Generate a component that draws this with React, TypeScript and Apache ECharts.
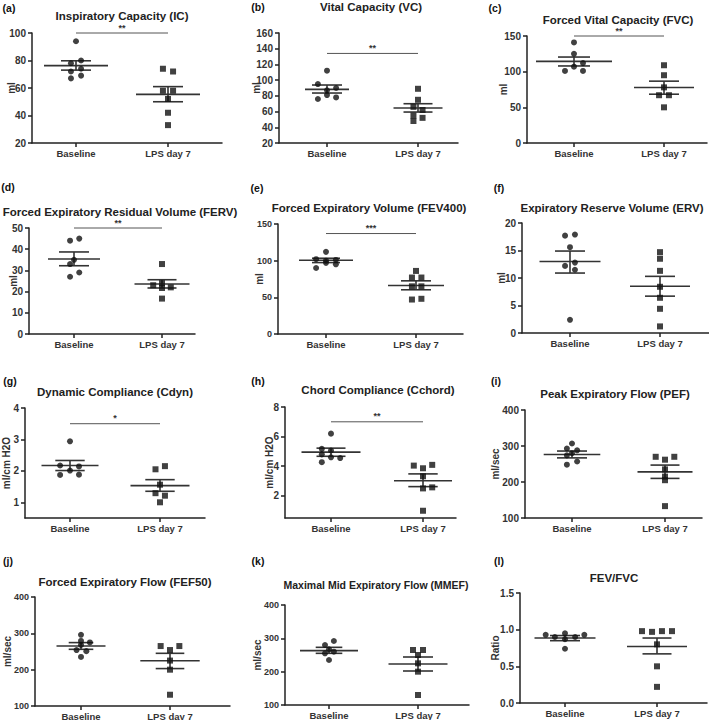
import React, { useEffect, useRef } from "react";
import * as echarts from "echarts";

const FONT = "'Liberation Sans', Arial, Helvetica, sans-serif";
const AX = "#222";
const TXT = "#333";

const groups = ["Baseline", "LPS day 7"];

// (a) Inspiratory Capacity
const icBase = [94, 78, 80, 72, 74, 67, 69];
const icBaseJit = [0, -0.055, 0.055, -0.055, 0.055, -0.055, 0.055];
const icLps = [74, 72, 58, 58, 52, 42, 33];
const icLpsJit = [-0.055, 0.055, -0.055, 0.055, 0, 0, 0];
const icMean = [76.3, 55.4];
const icLo = [73, 50];
const icHi = [79.8, 61];
const icTicks = [20, 40, 60, 80, 100];

// (b) Vital Capacity
const vcBase = [112, 95, 90, 87, 81, 76, 78];
const vcBaseJit = [0, -0.1, 0.1, 0, 0, -0.1, 0.1];
const vcLps = [89, 75, 66, 62, 55, 52, 48];
const vcLpsJit = [0, 0, -0.05, 0.05, -0.05, 0.05, -0.05];
const vcMean = [88.3, 64.5];
const vcLo = [83.6, 59.4];
const vcHi = [93.8, 70];
const vcTicks = [20, 40, 60, 80, 100, 120, 140, 160];

// (c) Forced Vital Capacity
const fvcBase = [141, 125, 112, 107, 101, 101];
const fvcBaseJit = [0, 0, 0.1, 0, -0.1, 0.1];
const fvcLps = [109, 95, 78, 67, 67, 50];
const fvcLpsJit = [0, 0, 0, -0.055, 0.055, 0];
const fvcMean = [114.4, 77.8];
const fvcLo = [108, 68.4];
const fvcHi = [120.5, 86.7];
const fvcTicks = [0, 50, 100, 150];

// (d) Forced Expiratory Residual Volume
const fervBase = [44, 45, 35, 33, 29, 27];
const fervBaseJit = [-0.045, 0.06, 0, -0.045, 0.06, -0.045];
const fervLps = [33, 23, 24, 22, 21.7, 16.7];
const fervLpsJit = [0, -0.1, 0, 0.1, 0, 0];
const fervMean = [35.4, 23.6];
const fervLo = [32.2, 21.7];
const fervHi = [38.7, 25.6];
const fervTicks = [0, 10, 20, 30, 40, 50];

// (e) Forced Expiratory Volume
const fevBase = [112, 102, 101, 100, 90, 97, 95];
const fevBaseJit = [0, -0.11, 0.11, 0, -0.11, 0, 0.11];
const fevLps = [86, 77, 77, 65, 65, 47, 48];
const fevLpsJit = [0, -0.045, 0.06, -0.045, 0.06, -0.045, 0.06];
const fevMean = [100.6, 66.2];
const fevLo = [97.4, 60.3];
const fevHi = [103.3, 72.5];
const fevTicks = [0, 50, 100, 150];

// (f) Expiratory Reserve Volume
const ervBase = [17.7, 17.9, 15.6, 12.8, 12.2, 11.5, 2.4];
const ervBaseJit = [-0.055, 0.055, 0, 0.055, -0.055, 0.055, 0];
const ervLps = [14.7, 13.5, 11.3, 8.4, 6.4, 4.4, 1.2];
const ervLpsJit = [0, 0, 0, 0, 0, 0, 0];
const ervMean = [13.0, 8.5];
const ervLo = [10.9, 6.7];
const ervHi = [14.9, 10.3];
const ervTicks = [0, 5, 10, 15, 20];

// (g) Dynamic Compliance
const cdynBase = [2.94, 2.17, 2.14, 2.01, 1.87, 1.88];
const cdynBaseJit = [0, -0.11, 0.1, 0, -0.11, 0.1];
const cdynLps = [2.15, 2.05, 1.56, 1.29, 1.21, 1.0];
const cdynLpsJit = [0.055, -0.05, 0, -0.05, 0.055, 0];
const cdynMean = [2.17, 1.53];
const cdynLo = [2.01, 1.35];
const cdynHi = [2.33, 1.72];
const cdynTicks = [1, 2, 3, 4];

// (h) Chord Compliance
const cchBase = [6.2, 5.17, 5.06, 4.8, 4.6, 4.27, 4.55];
const cchBaseJit = [0, -0.1, 0, -0.1, 0, -0.1, 0.1];
const cchLps = [4.04, 3.86, 4.09, 3.32, 2.5, 2.57, 0.99];
const cchLpsJit = [-0.1, 0, 0.1, 0, 0, 0.1, 0];
const cchMean = [4.95, 3.02];
const cchLo = [4.67, 2.62];
const cchHi = [5.22, 3.48];
const cchTicks = [2, 4, 6, 8];

// (i) Peak Expiratory Flow
const pefBase = [307, 293, 288, 280, 274, 257, 248];
const pefBaseJit = [0, -0.055, 0.055, 0, -0.055, 0.055, -0.055];
const pefLps = [270, 262, 270, 235, 215, 205, 133];
const pefLpsJit = [-0.1, 0, 0.1, 0, 0, 0, 0];
const pefMean = [276.5, 228];
const pefLo = [267, 210];
const pefHi = [286, 247];
const pefTicks = [100, 200, 300, 400];

// (j) Forced Expiratory Flow
const fefBase = [296, 279, 275, 268, 254, 251, 235];
const fefBaseJit = [0, 0, 0.1, 0, -0.05, 0.06, 0];
const fefLps = [265, 265, 254, 225, 200, 131];
const fefLpsJit = [-0.105, 0.105, 0, 0, 0, 0];
const fefMean = [265, 224.6];
const fefLo = [256, 203];
const fefHi = [274.5, 245];
const fefTicks = [100, 200, 300, 400];

// (k) Maximal Mid Expiratory Flow
const mmefBase = [292, 280, 267, 260, 255, 235];
const mmefBaseJit = [0.055, -0.045, 0, 0.055, -0.045, 0];
const mmefLps = [265, 265, 250, 225, 200, 130];
const mmefLpsJit = [-0.056, 0.056, 0, 0, 0, 0];
const mmefMean = [263, 223];
const mmefLo = [255, 202];
const mmefHi = [273, 244];
const mmefTicks = [100, 200, 300, 400];

// (l) FEV/FVC
const ratioBase = [0.93, 0.93, 0.9, 0.95, 0.9, 0.87, 0.74];
const ratioBaseJit = [-0.21, 0.21, -0.11, 0, 0.11, 0, 0];
const ratioLps = [0.98, 0.97, 0.98, 0.98, 0.8, 0.5, 0.22];
const ratioLpsJit = [-0.163, -0.054, 0.054, 0.163, 0, 0, 0];
const ratioMean = [0.886, 0.77];
const ratioLo = [0.85, 0.67];
const ratioHi = [0.92, 0.886];
const ratioTicks = [0, 0.5, 1.0, 1.5];

type Panel = {
  label: string; title: string; unit: string;
  base: number[]; baseJit: number[]; lps: number[]; lpsJit: number[];
  mean: number[]; lo: number[]; hi: number[]; ticks: number[];
  min: number; max: number; sig?: { y: number; text: string }; dec?: number;
};

const panels: Panel[] = [
  { label: "(a)", title: "Inspiratory Capacity (IC)", unit: "ml", base: icBase, baseJit: icBaseJit, lps: icLps, lpsJit: icLpsJit, mean: icMean, lo: icLo, hi: icHi, ticks: icTicks, min: 20, max: 100, sig: { y: 100, text: "**" } },
  { label: "(b)", title: "Vital Capacity (VC)", unit: "ml", base: vcBase, baseJit: vcBaseJit, lps: vcLps, lpsJit: vcLpsJit, mean: vcMean, lo: vcLo, hi: vcHi, ticks: vcTicks, min: 20, max: 160, sig: { y: 134, text: "**" } },
  { label: "(c)", title: "Forced Vital Capacity (FVC)", unit: "ml", base: fvcBase, baseJit: fvcBaseJit, lps: fvcLps, lpsJit: fvcLpsJit, mean: fvcMean, lo: fvcLo, hi: fvcHi, ticks: fvcTicks, min: 0, max: 150, sig: { y: 150, text: "**" } },
  { label: "(d)", title: "Forced Expiratory Residual Volume (FERV)", unit: "ml", base: fervBase, baseJit: fervBaseJit, lps: fervLps, lpsJit: fervLpsJit, mean: fervMean, lo: fervLo, hi: fervHi, ticks: fervTicks, min: 0, max: 50, sig: { y: 50, text: "**" } },
  { label: "(e)", title: "Forced Expiratory Volume (FEV400)", unit: "ml", base: fevBase, baseJit: fevBaseJit, lps: fevLps, lpsJit: fevLpsJit, mean: fevMean, lo: fevLo, hi: fevHi, ticks: fevTicks, min: 0, max: 150, sig: { y: 137, text: "***" } },
  { label: "(f)", title: "Expiratory Reserve Volume (ERV)", unit: "ml", base: ervBase, baseJit: ervBaseJit, lps: ervLps, lpsJit: ervLpsJit, mean: ervMean, lo: ervLo, hi: ervHi, ticks: ervTicks, min: 0, max: 20 },
  { label: "(g)", title: "Dynamic Compliance (Cdyn)", unit: "ml/cm H2O", base: cdynBase, baseJit: cdynBaseJit, lps: cdynLps, lpsJit: cdynLpsJit, mean: cdynMean, lo: cdynLo, hi: cdynHi, ticks: cdynTicks, min: 0.5, max: 4, sig: { y: 3.5, text: "*" } },
  { label: "(h)", title: "Chord Compliance (Cchord)", unit: "ml/cm H2O", base: cchBase, baseJit: cchBaseJit, lps: cchLps, lpsJit: cchLpsJit, mean: cchMean, lo: cchLo, hi: cchHi, ticks: cchTicks, min: 0.5, max: 8, sig: { y: 7, text: "**" } },
  { label: "(i)", title: "Peak Expiratory Flow (PEF)", unit: "ml/sec", base: pefBase, baseJit: pefBaseJit, lps: pefLps, lpsJit: pefLpsJit, mean: pefMean, lo: pefLo, hi: pefHi, ticks: pefTicks, min: 100, max: 400 },
  { label: "(j)", title: "Forced Expiratory Flow (FEF50)", unit: "ml/sec", base: fefBase, baseJit: fefBaseJit, lps: fefLps, lpsJit: fefLpsJit, mean: fefMean, lo: fefLo, hi: fefHi, ticks: fefTicks, min: 100, max: 400 },
  { label: "(k)", title: "Maximal Mid Expiratory Flow (MMEF)", unit: "ml/sec", base: mmefBase, baseJit: mmefBaseJit, lps: mmefLps, lpsJit: mmefLpsJit, mean: mmefMean, lo: mmefLo, hi: mmefHi, ticks: mmefTicks, min: 100, max: 400 },
  { label: "(l)", title: "FEV/FVC", unit: "Ratio", base: ratioBase, baseJit: ratioBaseJit, lps: ratioLps, lpsJit: ratioLpsJit, mean: ratioMean, lo: ratioLo, hi: ratioHi, ticks: ratioTicks, min: 0, max: 1.5, dec: 1 },
];

// layout: grid box, category pixel centres, title/label positions, style sizes
const layouts = [
  { left: 32, top: 33, w: 190, h: 110, c0: 76, c1: 168, tx: 122, ty: 16, lx: 9, ly: 8, gap: 16, mh: [32, 32], sh: [15, 15], tf: 10, ts: 11.5 },
  { left: 279, top: 33, w: 179, h: 110, c0: 327, c1: 418, tx: 371, ty: 7, lx: 258, ly: 7, gap: 18, mh: [22, 24.5], sh: [15, 14.5], tf: 10, ts: 11.5 },
  { left: 527, top: 36, w: 180, h: 107, c0: 574, c1: 664, tx: 618, ty: 20, lx: 495, ly: 8, gap: 19, mh: [38, 30], sh: [16, 15], tf: 10, ts: 11.5 },
  { left: 29, top: 228, w: 166, h: 106, c0: 74, c1: 162, tx: 120, ty: 212, lx: 8, ly: 187, gap: 11, mh: [26, 27.5], sh: [15, 14.5], tf: 10, ts: 11.5 },
  { left: 278, top: 224, w: 185, h: 110, c0: 326, c1: 416, tx: 369, ty: 208, lx: 257, ly: 188, gap: 14, mh: [27, 28], sh: [14, 15], tf: 9, ts: 11.5 },
  { left: 522, top: 223, w: 187, h: 110, c0: 570, c1: 660, tx: 612, ty: 208, lx: 499, ly: 188, gap: 16, mh: [30.5, 30], sh: [15, 15], tf: 10, ts: 11.5 },
  { left: 25, top: 408, w: 180, h: 110, c0: 70, c1: 160, tx: 115, ty: 392, lx: 10, ly: 381, gap: 14, mh: [28.5, 29.5], sh: [14.7, 14.7], tf: 10, ts: 11.5 },
  { left: 285, top: 407, w: 171, h: 111, c0: 331, c1: 423, tx: 378, ty: 390, lx: 258, ly: 381, gap: 11, mh: [29.5, 29], sh: [14.5, 14.7], tf: 10, ts: 11.5 },
  { left: 525, top: 410, w: 177, h: 108, c0: 572, c1: 665, tx: 615, ty: 394, lx: 496, ly: 381, gap: 25, mh: [28.3, 27.5], sh: [15, 14.5], tf: 10, ts: 11.5 },
  { left: 35, top: 597, w: 195, h: 109, c0: 81, c1: 170, tx: 125, ty: 582, lx: 8, ly: 561, gap: 23, mh: [24.5, 29.7], sh: [12.3, 14.3], tf: 9, ts: 11.5 },
  { left: 285, top: 605, w: 184, h: 100, c0: 329, c1: 418, tx: 376, ty: 585, lx: 258, ly: 561, gap: 23, mh: [29, 29.5], sh: [13.3, 15], tf: 9, ts: 10.5 },
  { left: 520, top: 593, w: 187, h: 110, c0: 565, c1: 657, tx: 614, ty: 578, lx: 499, ly: 561, gap: 20, mh: [30.5, 30], sh: [15, 14.5], tf: 10, ts: 11.5 },
];

function buildOption() {
  const grid: any[] = [];
  const xAxis: any[] = [];
  const yAxis: any[] = [];
  const series: any[] = [];
  const graphic: any[] = [];
  const axLine = { color: AX, width: 1.5 };

  panels.forEach((p, i) => {
    const L = layouts[i];
    const span = L.c1 - L.c0;
    grid.push({ left: L.left, top: L.top, width: L.w, height: L.h, containLabel: false, outerBoundsMode: "none" });
    xAxis.push({
      gridIndex: i, type: "value",
      min: -(L.c0 - L.left) / span, max: (L.left + L.w - L.c0) / span,
      splitLine: { show: false },
      axisLine: { show: true, onZero: false, lineStyle: axLine },
      axisTick: { show: true, customValues: [0, 1], length: 4, lineStyle: axLine },
      axisLabel: {
        customValues: [0, 1], formatter: (v: number) => groups[Math.round(v)],
        margin: 5, color: TXT, fontWeight: "bold", fontSize: 9.5, fontFamily: FONT,
      },
    });
    yAxis.push({
      gridIndex: i, type: "value", min: p.min, max: p.max,
      splitLine: { show: false },
      axisLine: { show: true, onZero: false, lineStyle: axLine },
      axisTick: { show: true, customValues: p.ticks, length: 4, lineStyle: axLine },
      axisLabel: {
        customValues: p.ticks,
        formatter: (v: number) => (p.dec ? v.toFixed(p.dec) : String(v)),
        margin: 6, color: TXT, fontWeight: "bold", fontSize: L.tf, fontFamily: FONT,
      },
      name: p.unit, nameLocation: "middle", nameGap: L.gap, nameRotate: 90,
      nameMoveOverlap: false,
      nameTextStyle: { color: TXT, fontWeight: "bold", fontSize: 10, fontFamily: FONT },
    });
    series.push({
      type: "scatter", xAxisIndex: i, yAxisIndex: i, symbol: "circle", symbolSize: 6,
      itemStyle: { color: "#111" }, silent: true,
      data: p.base.map((v, k) => [p.baseJit[k], v]),
    });
    series.push({
      type: "scatter", xAxisIndex: i, yAxisIndex: i, symbol: "rect", symbolSize: 6,
      itemStyle: { color: "#111" }, silent: true,
      data: p.lps.map((v, k) => [1 + p.lpsJit[k], v]),
    });
    series.push({
      type: "custom", xAxisIndex: i, yAxisIndex: i, clip: false, silent: true,
      encode: { x: 0, y: [1, 2, 3] },
      data: [0, 1].map((g) => [g, p.mean[g], p.lo[g], p.hi[g]]),
      renderItem: (params: any, api: any) => {
        const x = api.value(0);
        const pm = api.coord([x, api.value(1)]);
        const pl = api.coord([x, api.value(2)]);
        const ph = api.coord([x, api.value(3)]);
        const mh = L.mh[params.dataIndex];
        const sh = L.sh[params.dataIndex];
        const st = { stroke: "#333", lineWidth: 1.6 };
        return {
          type: "group",
          children: [
            { type: "line", shape: { x1: pm[0] - mh, y1: pm[1], x2: pm[0] + mh, y2: pm[1] }, style: st },
            { type: "line", shape: { x1: pl[0] - sh, y1: pl[1], x2: pl[0] + sh, y2: pl[1] }, style: st },
            { type: "line", shape: { x1: ph[0] - sh, y1: ph[1], x2: ph[0] + sh, y2: ph[1] }, style: st },
            { type: "line", shape: { x1: pl[0], y1: pl[1], x2: ph[0], y2: ph[1] }, style: st },
          ],
        };
      },
    });
    if (p.sig) {
      const sig = p.sig;
      series.push({
        type: "custom", xAxisIndex: i, yAxisIndex: i, clip: false, silent: true,
        encode: { x: 0, y: 1 },
        data: [[0, sig.y]],
        renderItem: (params: any, api: any) => {
          const a = api.coord([0, api.value(1)]);
          const b = api.coord([1, api.value(1)]);
          return {
            type: "group",
            children: [
              { type: "line", shape: { x1: a[0], y1: a[1], x2: b[0], y2: b[1] }, style: { stroke: "#555", lineWidth: 1 } },
              {
                type: "text", x: (a[0] + b[0]) / 2, y: a[1] - 1,
                style: { text: sig.text, align: "center", verticalAlign: "bottom", fontSize: 9, fontWeight: "bold", fill: "#333", fontFamily: FONT },
              },
            ],
          };
        },
      });
    }
    graphic.push({
      type: "text", x: L.tx, y: L.ty, silent: true,
      style: { text: p.title, align: "center", verticalAlign: "middle", fontSize: L.ts, fontWeight: "bold", fill: "#222", fontFamily: FONT },
    });
    graphic.push({
      type: "text", x: L.lx, y: L.ly, silent: true,
      style: { text: p.label, align: "center", verticalAlign: "middle", fontSize: 10.5, fontWeight: "bold", fill: "#111", fontFamily: FONT },
    });
  });

  return { animation: false, backgroundColor: "#fff", grid, xAxis, yAxis, series, graphic };
}

export default function App() {
  const ref = useRef<HTMLDivElement>(null);
  useEffect(() => {
    if (!ref.current) return;
    const chart = echarts.init(ref.current, undefined, { renderer: "svg" });
    chart.setOption(buildOption() as any);
    return () => chart.dispose();
  }, []);
  return (
    <div
      ref={ref}
      style={{ position: "absolute", left: 0, top: 0, width: 709, height: 720, background: "#fff" }}
    />
  );
}
